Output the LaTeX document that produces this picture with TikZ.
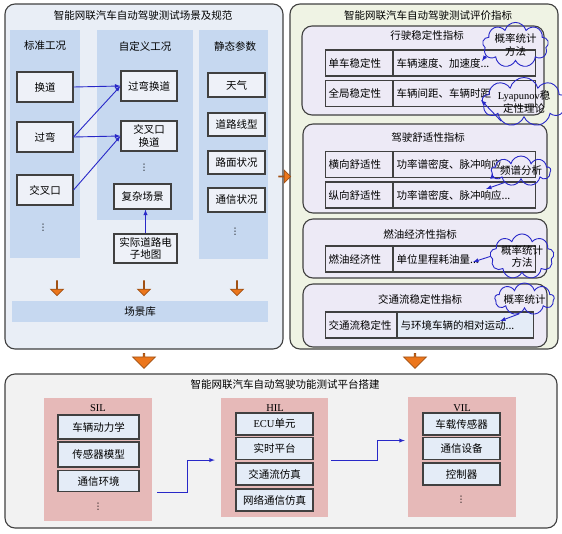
\documentclass[tikz,border=0pt]{standalone}
\usepackage{fontspec}
\setmainfont{Liberation Serif}
\newfontfamily\cjk{Noto Sans CJK SC}
\newfontfamily\sym{DejaVu Sans}
\usetikzlibrary{shapes.symbols,shapes.arrows}

\definecolor{leftbg}{RGB}{233,238,246}
\definecolor{lane}{RGB}{198,216,240}
\definecolor{boxbg}{RGB}{238,241,248}
\definecolor{rightbg}{RGB}{239,243,228}
\definecolor{subbg}{RGB}{237,234,246}
\definecolor{botbg}{RGB}{242,242,242}
\definecolor{pinkbg}{RGB}{230,185,184}
\definecolor{cellbg}{RGB}{228,236,247}
\definecolor{linkblue}{RGB}{40,40,200}
\definecolor{orfill}{RGB}{236,118,28}
\definecolor{orline}{RGB}{160,80,20}
\definecolor{edge}{RGB}{64,64,64}

\begin{document}
\begin{tikzpicture}[x=1pt,y=-1pt,
    every node/.style={font=\cjk\fontsize{10.5}{12.5}\selectfont, inner sep=1},
    sz/.style 2 args={minimum width=#1, minimum height=#2},
    panel/.style={draw=edge, line width=1.1, rounded corners=10},
    box/.style={draw=edge, line width=1.1, fill=boxbg, align=center},
    link/.style={draw=linkblue, line width=0.9, -latex},
    dots/.style={font=\sym\fontsize{9}{10}\selectfont},
    keycell/.style={draw=edge, line width=1.1, fill=subbg, anchor=west,
      minimum height=26, inner xsep=3, text width=#1, align=left},
    valcell/.style={keycell=#1},
    cloudy/.style={cloud, cloud puffs=9, cloud ignores aspect, draw=linkblue,
      line width=0.9, align=center, inner sep=0},
    fat/.style={single arrow, draw=orline, fill=orfill, line width=0.7,
      inner sep=0, minimum height=15, single arrow head extend=4.5,
      single arrow head indent=0, minimum width=#1}]
  \useasboundingbox (0,0) rectangle (562,533);

  % scene library panel
  \node[panel, fill=leftbg, sz={278}{345}] (scene) at (144,176.5) {};
  \node (scenet) at (143,16) {智能网联汽车自动驾驶测试场景及规范};
  \node[fill=lane, sz={70}{228}] (lane1) at (45,144) {};
  \node[fill=lane, sz={96}{190}] (lane2) at (145,125) {};
  \node[fill=lane, sz={69}{229}] (lane3) at (233.5,144.5) {};
  \node (lane1t) at (45,46) {标准工况};
  \node (lane2t) at (145,46) {自定义工况};
  \node (lane3t) at (235,46) {静态参数};

  \node[box, sz={56}{30}] (s1) at (45,87) {换道};
  \node[box, sz={56}{30}] (s2) at (45,137) {过弯};
  \node[box, sz={56}{30}] (s3) at (45,190) {交叉口};
  \node[dots] (s4) at (43,228) {⋮};

  \node[box, sz={56}{30}] (d1) at (149,86) {过弯换道};
  \node[box, sz={56}{30}] (d2) at (149,136) {交叉口\\换道};
  \node[dots] (d3) at (144,168) {⋮};
  \node[box, sz={57}{25}] (d4) at (142.5,196.5) {复杂场景};
  \node[box, sz={63}{29}] (map) at (145.5,248.5) {实际道路电\\子地图};

  \foreach \n/\y/\h/\t in {p1/85/24/天气, p2/124.5/23/道路线型,
      p3/162.5/23/路面状况, p4/200/24/通信状况}
    \node[box, sz={57}{\h}] (\n) at (236.5,\y) {\t};
  \node[dots] (p5) at (235,232) {⋮};

  \draw[link] (s1.east) -- (d1.west);
  \draw[link] (s2.east) -- (d1.west);
  \draw[link] (s2.east) -- (d2.west);
  \draw[link] (s3.east) -- (d2.west);
  \draw[link] (map.north) -- (map.north |- d4.south);

  \foreach \x in {57,144,237}
    \node[fat=13, rotate=-90] at (\x,288) {};
  \node[fill=lane, sz={256}{21}] (lib) at (140,311.5) {场景库};

  % evaluation panel
  \node[panel, fill=rightbg, sz={268}{345}] (eval) at (424,176.5) {};
  \node (evalt) at (428,16) {智能网联汽车自动驾驶测试评价指标};

  \node[panel, fill=subbg, sz={242}{89}] (g1) at (423,70.5) {};
  \node (g1t) at (427,35) {行驶稳定性指标};
  \node[keycell=61] (k1) at (325,63) {单车稳定性};
  \node[valcell=136] (v1) at (k1.east) {车辆速度、加速度...};
  \node[keycell=61] (k2) at (325,93.5) {全局稳定性};
  \node[valcell=136] (v2) at (k2.east) {车辆间距、车辆时距};

  \node[panel, fill=subbg, sz={244}{89}] (g2) at (425,168.5) {};
  \node (g2t) at (428,137) {驾驶舒适性指标};
  \node[keycell=61] (k3) at (325,164.5) {横向舒适性};
  \node[valcell=136] (v3) at (k3.east) {功率谱密度、脉冲响应...};
  \node[keycell=61] (k4) at (325,195) {纵向舒适性};
  \node[valcell=136] (v4) at (k4.east) {功率谱密度、脉冲响应...};

  \node[panel, fill=subbg, sz={244}{59}] (g3) at (425,248.5) {};
  \node (g3t) at (420,234) {燃油经济性指标};
  \node[keycell=61] (k5) at (325,259) {燃油经济性};
  \node[valcell=136] (v5) at (k5.east) {单位里程耗油量...};

  \node[panel, fill=subbg, sz={244}{63}] (g4) at (425,315.5) {};
  \node (g4t) at (420,299) {交通流稳定性指标};
  \node[keycell=65] (k6) at (325,325) {交通流稳定性};
  \node[valcell=130, fill=cellbg] (v6) at (k6.east) {与环境车辆的相对运动...};

  % methods
  \node[cloudy, sz={66}{40}] (m1) at (515.5,45) {概率统计\\方法};
  \node[cloudy, sz={84}{46}] (m2) at (524,102) {{\rmfamily Lyapunov}稳\\定性理论};
  \node[cloudy, sz={50}{30}] (m3) at (521,171) {频谱分析};
  \node[cloudy, sz={54}{42}] (m4) at (522,256.5) {概率统计\\方法};
  \node[cloudy, sz={50}{32}] (m5) at (524.5,299) {概率统计};

  \coordinate (t1) at (482,61);
  \coordinate (t2) at (481,100);
  \coordinate (t3) at (492,173);
  \coordinate (t4) at (486,189);
  \coordinate (t5) at (473,262);
  \coordinate (t6) at (500,321);
  \draw[link] (m1.200) -- (t1);
  \draw[link] (m2.220) -- (t2);
  \draw[link] (m3.190) -- (t3);
  \draw[link] (m3.215) -- (t4);
  \draw[link] (m4.west) -- (t5);
  \draw[link] (m5.250) -- (t6);

  \node[fat=13, minimum height=12] at (284.5,176.5) {};
  \node[fat=23, rotate=-90] at (144,360.5) {};
  \node[fat=23, rotate=-90] at (415,360.5) {};

  % test platform panel
  \node[panel, fill=botbg, sz={552}{154}] (plat) at (281,451) {};
  \node (platt) at (285,385) {智能网联汽车自动驾驶功能测试平台搭建};

  \node[fill=pinkbg, sz={108}{123}] (sil) at (98,459.5) {};
  \node[font=\rmfamily\fontsize{10.5}{12.5}\selectfont] (silt) at (98,408) {SIL};
  \node[box, fill=cellbg, sz={81}{24}] (a1) at (98.5,427) {车辆动力学};
  \node[box, fill=cellbg, sz={81}{25}] (a2) at (98.5,454.5) {传感器模型};
  \node[box, fill=cellbg, sz={81}{21}] (a3) at (98.5,481) {通信环境};
  \node[dots] (a4) at (98,507) {⋮};

  \node[fill=pinkbg, sz={107}{119}] (hil) at (274.5,457.5) {};
  \node[font=\rmfamily\fontsize{10.5}{12.5}\selectfont] (hilt) at (275,408) {HIL};
  \node[box, fill=cellbg, sz={77}{22}] (b1) at (274.5,424) {{\rmfamily ECU}单元};
  \node[box, fill=cellbg, sz={77}{22}] (b2) at (274.5,448.5) {实时平台};
  \node[box, fill=cellbg, sz={77}{22}] (b3) at (274.5,474) {交通流仿真};
  \node[box, fill=cellbg, sz={77}{22}] (b4) at (274.5,500) {网络通信仿真};

  \node[fill=pinkbg, sz={108}{120}] (vil) at (462,457) {};
  \node[font=\rmfamily\fontsize{10.5}{12.5}\selectfont] (vilt) at (462,408) {VIL};
  \node[box, fill=cellbg, sz={77}{22}] (c1) at (461.5,424) {车载传感器};
  \node[box, fill=cellbg, sz={77}{22}] (c2) at (461.5,448.5) {通信设备};
  \node[box, fill=cellbg, sz={77}{22}] (c3) at (461.5,474) {控制器};
  \node[dots] (c4) at (461,500) {⋮};

  \draw[link] ([xshift=5]sil.east |- a3.south) -- ++(30,0) |- ([xshift=-6]hil.west |- b2.south);
  \draw[link] ([xshift=3]hil.east |- b2.south) -- ++(46,0) |- ([xshift=-3,yshift=-5]vil.west |- c1.south);
\end{tikzpicture}
\end{document}
